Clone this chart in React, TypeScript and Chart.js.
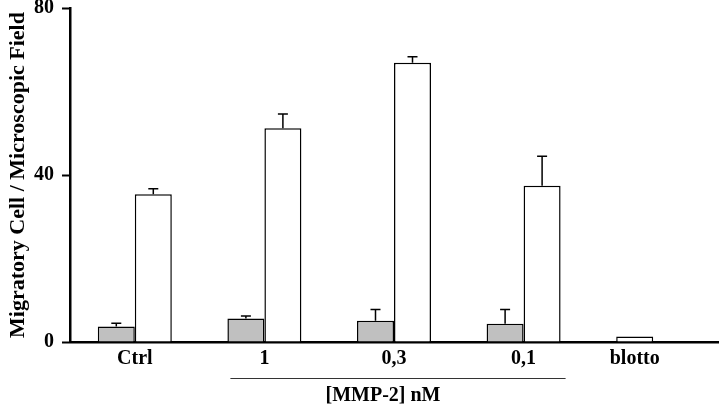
import React, { useEffect, useRef } from "react";
import { Chart, registerables } from "chart.js";

Chart.register(...registerables);

const categories = ["Ctrl", "1", "0,3", "0,1", "blotto"];
const grayValues = [3.7, 5.6, 5.1, 4.4, 1.3];
const grayErrors = [0.8, 0.6, 2.7, 3.4, 0];
const whiteValues = [35.4, 51.2, 66.9, 37.4, null];
const whiteErrors = [1.3, 3.4, 1.4, 7.1, 0];
const yTicks = [0, 40, 80];
const yTitle = "Migratory Cell / Microscopic Field";
const bracketLabel = "[MMP-2] nM";
const bracketFrom = 1;
const bracketTo = 3;

const SERIF = "'Liberation Serif', 'Times New Roman', serif";

const errorBarPlugin = {
  id: "errorBars",
  afterDatasetsDraw(chart: any) {
    const ctx = chart.ctx;
    const y = chart.scales.y;
    const errs = [grayErrors, whiteErrors];
    ctx.save();
    ctx.strokeStyle = "#000";
    ctx.lineWidth = 1.5;
    chart.data.datasets.forEach((ds: any, di: number) => {
      const meta = chart.getDatasetMeta(di);
      meta.data.forEach((bar: any, i: number) => {
        const v = ds.data[i];
        const e = errs[di][i];
        if (v == null || !e) return;
        const x = bar.x;
        const top = y.getPixelForValue(v + e);
        const base = y.getPixelForValue(v);
        ctx.beginPath();
        ctx.moveTo(x, base);
        ctx.lineTo(x, top);
        ctx.moveTo(x - 5, top);
        ctx.lineTo(x + 5, top);
        ctx.stroke();
      });
    });
    ctx.restore();
  },
};

const labelPlugin = {
  id: "xLabels",
  afterDraw(chart: any) {
    const ctx = chart.ctx;
    const xs = chart.scales.x;
    const area = chart.chartArea;
    ctx.save();
    ctx.fillStyle = "#000";
    ctx.font = `bold 20px ${SERIF}`;
    ctx.textAlign = "center";
    ctx.textBaseline = "middle";
    categories.forEach((c, i) => {
      const pts: number[] = [];
      chart.data.datasets.forEach((ds: any, di: number) => {
        if (ds.data[i] != null) pts.push(chart.getDatasetMeta(di).data[i].x);
      });
      const cx = pts.length ? pts.reduce((a, b) => a + b, 0) / pts.length : xs.getPixelForValue(i);
      ctx.fillText(c, cx, area.bottom + 17);
    });
    // bracket
    const x0 = xs.getPixelForValue(bracketFrom) - 34;
    const x1 = xs.getPixelForValue(bracketTo) + 42;
    const by = area.bottom + 36;
    ctx.strokeStyle = "#333";
    ctx.lineWidth = 1;
    ctx.beginPath();
    ctx.moveTo(x0, by + 0.5);
    ctx.lineTo(x1, by + 0.5);
    ctx.stroke();
    ctx.fillText(bracketLabel, (xs.getPixelForValue(bracketFrom) + xs.getPixelForValue(bracketTo)) / 2 - 11, by + 18);
    ctx.restore();
  },
};

export default function App() {
  const ref = useRef<HTMLCanvasElement>(null);
  useEffect(() => {
    document.body.style.margin = "0";
    const chart = new Chart(ref.current!, {
      type: "bar",
      data: {
        labels: categories,
        datasets: [
          {
            data: grayValues,
            backgroundColor: grayValues.map((_, i) => (i === categories.length - 1 ? "#ffffff" : "#c0c0c0")),
            borderColor: "#000",
            borderWidth: 1.5,
            categoryPercentage: 0.571,
            barPercentage: 1,
          },
          {
            data: whiteValues,
            backgroundColor: "#ffffff",
            borderColor: "#000",
            borderWidth: 1.5,
            categoryPercentage: 0.571,
            barPercentage: 1,
          },
        ],
      },
      options: {
        animation: false,
        responsive: false,
        maintainAspectRatio: false,
        layout: { padding: { top: 8, right: 2, left: 0, bottom: 0 } },
        plugins: { legend: { display: false }, tooltip: { enabled: false } },
        scales: {
          x: {
            grid: { display: false },
            border: { display: true, color: "#000", width: 2.5 },
            ticks: { display: false },
            afterFit: (s: any) => {
              s.height = 64;
            },
          },
          y: {
            min: 0,
            max: 80,
            afterBuildTicks: (s: any) => {
              s.ticks = yTicks.map((v) => ({ value: v }));
            },
            grid: { display: true, drawOnChartArea: false, drawTicks: true, tickLength: 8, tickColor: "#000", tickWidth: 2 },
            border: { display: true, color: "#000", width: 2.5 },
            ticks: {
              color: "#000",
              padding: 8,
              font: { family: SERIF, size: 20, weight: "bold", lineHeight: 1.2 },
            },
            title: {
              display: true,
              text: yTitle,
              color: "#000",
              padding: { top: 5, bottom: 0 },
              font: { family: SERIF, size: 22, weight: "bold", lineHeight: 1.2 },
            },
            afterFit: (s: any) => {
              s.width = 70;
              s.paddingTop = 0;
              s.paddingBottom = 0;
            },
          },
        },
      },
      plugins: [errorBarPlugin, labelPlugin],
    } as any);
    return () => chart.destroy();
  }, []);
  return (
    <div style={{ width: 720, height: 406, background: "#fff" }}>
      <canvas ref={ref} width={720} height={406} style={{ display: "block" }} />
    </div>
  );
}
